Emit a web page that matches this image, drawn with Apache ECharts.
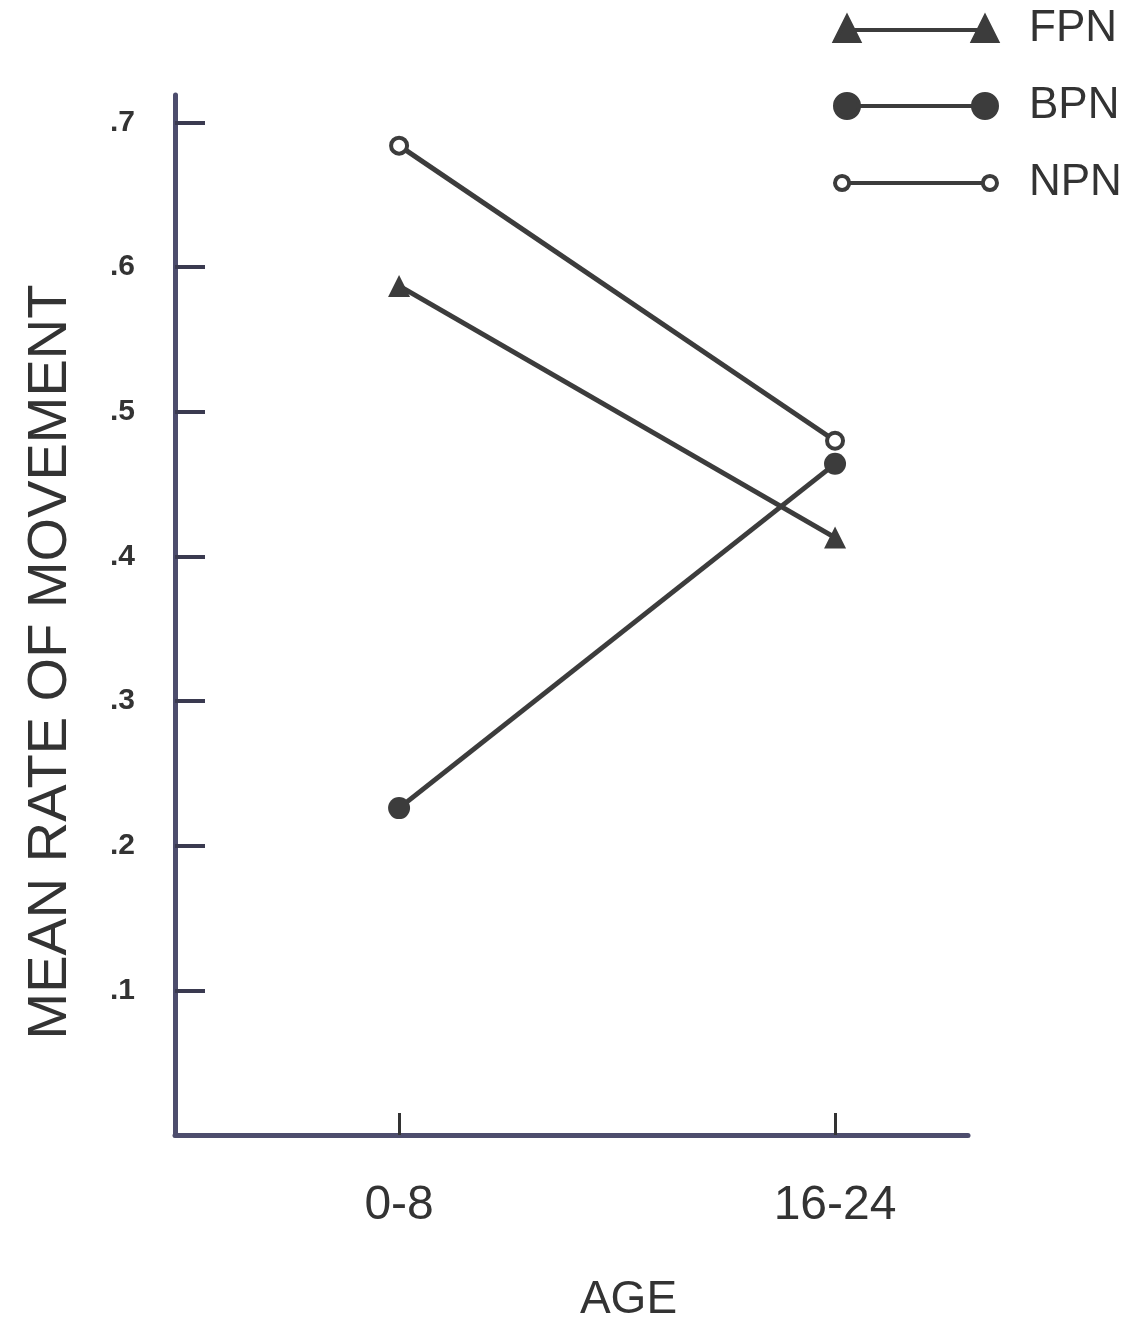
<!DOCTYPE html>
<html>
<head>
<meta charset="utf-8">
<script src="https://cdn.jsdelivr.net/npm/echarts@6/dist/echarts.min.js"></script>
<style>
  html, body { margin: 0; padding: 0; background: #ffffff; }
  #chart { width: 1147px; height: 1327px; }
</style>
</head>
<body>
<div id="chart"></div>
<script>
// ---- data ----
const ageGroups = ['0-8', '16-24'];          // x categories (positions 0 and 1)
const seriesNames = ['FPN', 'BPN', 'NPN'];
const fpn = [0.587, 0.413];
const bpn = [0.226, 0.464];
const npn = [0.684, 0.480];
const yTickValues = [0.1, 0.2, 0.3, 0.4, 0.5, 0.6, 0.7];
const yTickLabels = ['.1', '.2', '.3', '.4', '.5', '.6', '.7'];

const lineColor = '#3c3c3c';
const axisColor = '#4d4d6d';

function pts(arr) { return arr.map((v, i) => [i, v]); }

const iconFPN = 'path://M0 24 L12 0 L24 24 Z M12 13 L150 13 M138 24 L150 0 L162 24 Z';
const iconBPN = 'path://M0 12 A12 12 0 1 1 24 12 A12 12 0 1 1 0 12 Z M12 12 L150 12 M138 12 A12 12 0 1 1 162 12 A12 12 0 1 1 138 12 Z';
const iconNPN = 'path://M1 12 A7 7 0 1 1 15 12 A7 7 0 1 1 1 12 Z M15 12 L147 12 M147 12 A7 7 0 1 1 161 12 A7 7 0 1 1 147 12 Z';

const chart = echarts.init(document.getElementById('chart'), null, { renderer: 'canvas' });

const option = {
  backgroundColor: '#ffffff',
  animation: false,
  textStyle: { fontFamily: 'Liberation Sans, Arial, sans-serif' },
  grid: { left: 175, right: 179, top: 95, bottom: 192, containLabel: false, outerBoundsMode: 'none' },
  legend: {
    orient: 'vertical',
    left: 828,
    top: 2,
    itemWidth: 162,
    itemHeight: 24,
    itemGap: 33,
    textStyle: { fontSize: 44, color: '#333333', padding: [0, 0, 0, 27] },
    data: [
      { name: 'FPN', icon: iconFPN, itemStyle: { color: lineColor, borderColor: lineColor, borderWidth: 4 } },
      { name: 'BPN', icon: iconBPN, itemStyle: { color: lineColor, borderColor: lineColor, borderWidth: 4 } },
      { name: 'NPN', icon: iconNPN, itemStyle: { color: '#ffffff', borderColor: lineColor, borderWidth: 4 } }
    ]
  },
  xAxis: {
    type: 'value',
    min: -0.514,
    max: 1.305,
    name: 'AGE',
    nameLocation: 'middle',
    nameGap: 142,
    nameTextStyle: { fontSize: 46, color: '#333333', padding: [0, 0, 0, 114] },
    splitLine: { show: false },
    axisLine: { show: true, onZero: false, lineStyle: { color: axisColor, width: 5 } },
    axisTick: { show: true, inside: true, length: 22, customValues: [0, 1], lineStyle: { color: '#333333', width: 3 } },
    axisLabel: {
      show: true,
      customValues: [0, 1],
      margin: 47,
      fontSize: 48,
      color: '#333333',
      formatter: function (v) { return ageGroups[Math.round(v)]; }
    }
  },
  yAxis: {
    type: 'value',
    min: 0,
    max: 0.719,
    name: 'MEAN RATE OF MOVEMENT',
    nameLocation: 'middle',
    nameRotate: 90,
    nameGap: 96,
    nameTextStyle: { fontSize: 56, color: '#333333', padding: [0, 94, 0, 0] },
    splitLine: { show: false },
    axisLine: { show: true, onZero: false, lineStyle: { color: axisColor, width: 5 } },
    axisTick: { show: true, inside: true, length: 30, customValues: yTickValues, lineStyle: { color: '#3a3a50', width: 4 } },
    axisLabel: {
      show: true,
      customValues: yTickValues,
      margin: 40,
      fontSize: 30,
      fontWeight: 'bold',
      color: '#333333',
      formatter: function (v) {
        const i = yTickValues.findIndex(t => Math.abs(t - v) < 1e-6);
        return i >= 0 ? yTickLabels[i] : '';
      }
    }
  },
  series: [
    {
      name: 'FPN', type: 'line', data: pts(fpn),
      symbol: 'triangle', symbolSize: 22,
      lineStyle: { color: lineColor, width: 5 },
      itemStyle: { color: lineColor }
    },
    {
      name: 'BPN', type: 'line', data: pts(bpn),
      symbol: 'circle', symbolSize: 22,
      lineStyle: { color: lineColor, width: 5 },
      itemStyle: { color: lineColor }
    },
    {
      name: 'NPN', type: 'line', data: pts(npn),
      symbol: 'circle', symbolSize: 16,
      lineStyle: { color: lineColor, width: 5 },
      itemStyle: { color: '#ffffff', borderColor: lineColor, borderWidth: 4 }
    }
  ]
};

chart.setOption(option);
</script>
</body>
</html>
